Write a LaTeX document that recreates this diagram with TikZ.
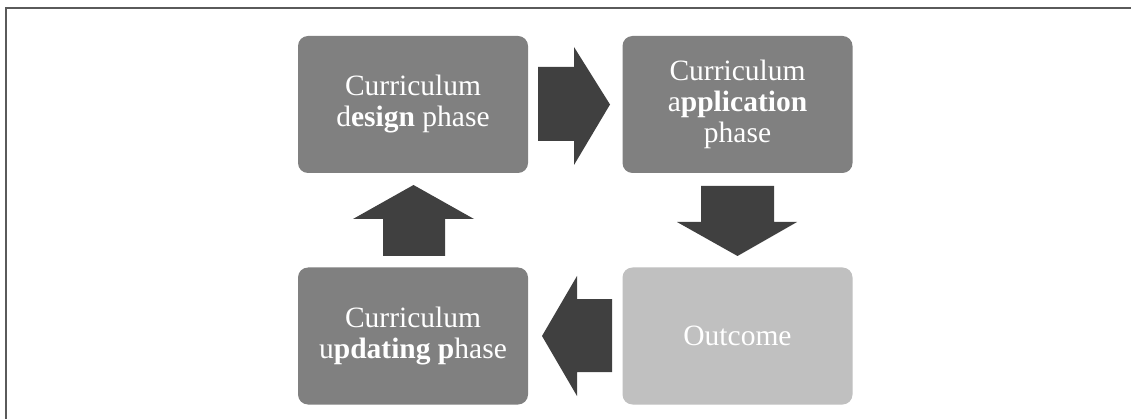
\documentclass[tikz,border=0pt]{standalone}
\usepackage{fontspec}
\setmainfont{Liberation Serif}
\definecolor{boxgray}{HTML}{808080}
\definecolor{outgray}{HTML}{C0C0C0}
\definecolor{arrowgray}{HTML}{404040}
\definecolor{framegray}{HTML}{5A5A5A}
\tikzset{
  phasebox/.style={rounded corners=10pt, fill=boxgray, draw=none, minimum width=230pt, minimum height=137pt,
    text=white, align=center, inner sep=0pt, font=\fontsize{29.5pt}{31pt}\selectfont},
  outbox/.style={phasebox, fill=outgray},
  blockarrow/.style={fill=arrowgray, draw=none}
}
\begin{document}
\begin{tikzpicture}[x=1pt,y=-1pt]
\useasboundingbox (0,0) rectangle (1131,419);
\fill[white] (0,0) rectangle (1131,419);
% frame
\draw[framegray, line width=2pt] (6,419) -- (6,8.5) -- (1131,8.5);
% boxes
\node[phasebox] (design) at (413,104.5) {Curriculum\\d\textbf{esign} phase};
\node[phasebox] (app) at (737.5,104.5) {Curriculum\\a\textbf{pplication}\\phase};
\node[outbox] (out) at (737.5,336) {Outcome};
\node[phasebox] (upd) at (413,336) {Curriculum\\u\textbf{pdating p}hase};
% block arrows
\fill[blockarrow] (538,67) -- (574,67) -- (574,47) -- (610,104.5) -- (574,165) -- (574,141) -- (538,141) -- cycle;
\fill[blockarrow] (701,186) -- (774,186) -- (774,222) -- (797,222) -- (737.5,256) -- (677,222) -- (701,222) -- cycle;
\fill[blockarrow] (612,299) -- (577,299) -- (577,276) -- (542,336) -- (577,396) -- (577,372) -- (612,372) -- cycle;
\fill[blockarrow] (383,256) -- (383,219) -- (353,219) -- (413.5,185) -- (474,219) -- (445,219) -- (445,256) -- cycle;
\end{tikzpicture}
\end{document}
